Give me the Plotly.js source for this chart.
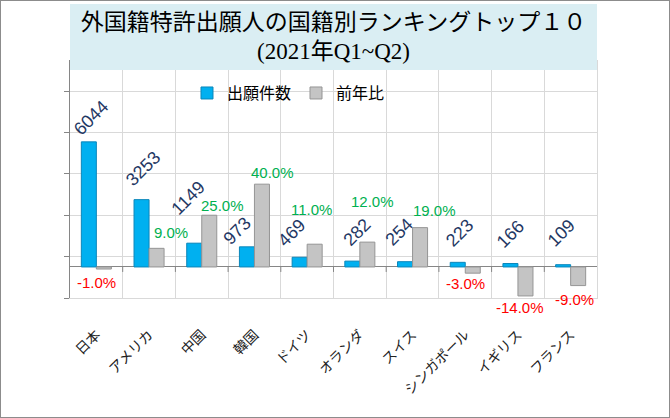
<!DOCTYPE html>
<html>
<head>
<meta charset="utf-8">
<script src="https://cdn.plot.ly/plotly-3.0.1.min.js"></script>
<style>
  body { margin: 0; background: #fff; }
  #chart { width: 668px; height: 416px; border: 1px solid #8c8c8c; }
</style>
</head>
<body>
<div id="chart"></div>
<script>
// データ
const countries = ['日本', 'アメリカ', '中国', '韓国', 'ドイツ', 'オランダ', 'スイス', 'シンガポール', 'イギリス', 'フランス'];
const filings = [6044, 3253, 1149, 973, 469, 282, 254, 223, 166, 109];
const yoyPct = [-1.0, 9.0, 25.0, 40.0, 11.0, 12.0, 19.0, -3.0, -14.0, -9.0];

// ラベルの微調整 (px) : 棒の端からの距離と横ずれ
const filingLift = [24, 31, 45, 16, 24, 29, 30, 29, 30, 32];
const filingShift = [2, 1, -6, -10, -8, 5, -6, 2, 0, -2];
const yoyLift = [13, 16, 10, 12, 35, 41, 17, 10, 12, 14];
const yoyShift = [-7, 14, 13, 11, -3, 5, 14, -7, -5, -4];

const barW = 0.285;
const labelFont = 'Liberation Sans, Arial, sans-serif';
const jpFont = 'Noto Sans CJK JP, sans-serif';
const serifFont = 'Liberation Serif, Noto Sans CJK JP, serif';

let filingBars = {
  name: '出願件数',
  type: 'bar',
  x: countries,
  y: filings,
  width: barW,
  offset: -barW,
  yaxis: 'y',
  marker: { color: '#00B0F0', line: { color: '#0B86BA', width: 1 } },
  hoverinfo: 'none'
};

let yoyBars = {
  name: '前年比',
  type: 'bar',
  x: countries,
  y: yoyPct,
  width: barW,
  offset: 0,
  yaxis: 'y2',
  marker: { color: '#C4C4C4', line: { color: '#959595', width: 1 } },
  hoverinfo: 'none'
};

// 件数ラベル (斜め)
let annotations = filings.map(function(v, i) {
  return {
    x: i - barW / 2, y: v, xref: 'x', yref: 'y',
    text: String(v), showarrow: false, textangle: -45,
    xanchor: 'center', yanchor: 'middle',
    xshift: filingShift[i], yshift: filingLift[i],
    font: { family: labelFont, size: 18, color: '#1F3864' }
  };
});

// 前年比ラベル
yoyPct.forEach(function(v, i) {
  annotations.push({
    x: i + barW / 2, y: v, xref: 'x', yref: 'y2',
    text: v.toFixed(1) + '%', showarrow: false,
    xanchor: 'center', yanchor: 'middle',
    xshift: yoyShift[i], yshift: v < 0 ? -yoyLift[i] : yoyLift[i],
    font: { family: labelFont, size: 15, color: v < 0 ? '#FF0000' : '#00B050' }
  });
});

// サブタイトル
annotations.push({
  x: 0.5, y: 1.034, xref: 'paper', yref: 'paper',
  text: '(2021年Q1~Q2)', showarrow: false,
  xanchor: 'center', yanchor: 'middle',
  font: { family: serifFont, size: 23, color: '#000000' }
});

// タイトル背景
let shapes = [{
  type: 'rect', xref: 'paper', yref: 'paper',
  x0: 0, x1: 1, y0: 0.958, y1: 1.235,
  fillcolor: '#DAEEF3', line: { width: 0 }, layer: 'above'
}];

// 横軸(0の位置)の目盛り
for (let i = 1; i < countries.length; i++) {
  shapes.push({
    type: 'line', xref: 'x', yref: 'y',
    x0: i - 0.5, x1: i - 0.5,
    ysizemode: 'pixel', yanchor: 0, y0: 0, y1: -5,
    line: { color: '#868686', width: 1 }
  });
}

let layout = {
  width: 668,
  height: 416,
  margin: { l: 69, r: 72, t: 59, b: 119 },
  paper_bgcolor: '#ffffff',
  plot_bgcolor: '#ffffff',
  barmode: 'overlay',
  showlegend: true,
  title: {
    text: '外国籍特許出願人の国籍別ランキングトップ１０',
    x: 0.5, xref: 'paper', xanchor: 'center',
    y: 0.9495, yref: 'container', yanchor: 'middle',
    font: { family: serifFont, size: 23, color: '#000000' }
  },
  legend: {
    orientation: 'h',
    x: 0.222, xanchor: 'left',
    y: 0.861, yanchor: 'middle',
    bgcolor: 'rgba(0,0,0,0)',
    itemwidth: 30,
    font: { family: jpFont, size: 16, color: '#000000' }
  },
  xaxis: {
    type: 'category',
    categoryarray: countries,
    range: [-0.5, 9.5],
    tickson: 'boundaries',
    showgrid: true,
    gridcolor: '#D9D9D9',
    ticks: '',
    tickangle: -45,
    ticklabelstandoff: 22,
    tickfont: { family: jpFont, size: 14, color: '#222222' },
    showline: true,
    linecolor: '#D9D9D9',
    fixedrange: true
  },
  yaxis: {
    range: [-1500, 10000],
    tick0: -1500,
    dtick: 2000,
    showgrid: true,
    gridcolor: '#D9D9D9',
    zeroline: true,
    zerolinecolor: '#868686',
    zerolinewidth: 1,
    showline: true,
    linecolor: '#868686',
    ticks: 'outside',
    ticklen: 5,
    tickcolor: '#868686',
    showticklabels: false,
    fixedrange: true
  },
  yaxis2: {
    range: [-15, 100],
    overlaying: 'y',
    side: 'right',
    showgrid: false,
    zeroline: false,
    showline: true,
    linecolor: '#D9D9D9',
    ticks: '',
    showticklabels: false,
    fixedrange: true
  },
  shapes: shapes,
  annotations: annotations
};

Plotly.newPlot('chart', [filingBars, yoyBars], layout, { displayModeBar: false, staticPlot: true });
</script>
</body>
</html>
